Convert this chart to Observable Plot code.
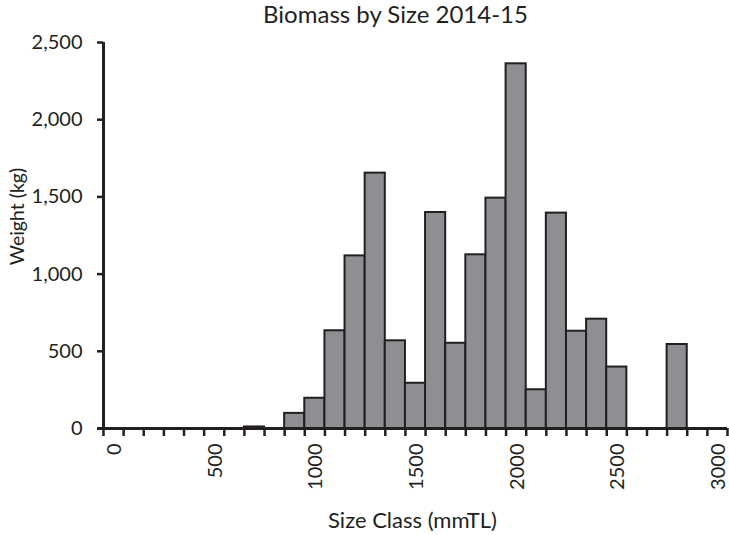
<!DOCTYPE html>
<html>
<head>
<meta charset="utf-8">
<script src="https://cdn.jsdelivr.net/npm/d3@7"></script>
<script src="https://cdn.jsdelivr.net/npm/@observablehq/plot@0.6"></script>
<style>
  html, body { margin: 0; padding: 0; background: #ffffff; }
  #chart svg { display: block; }
</style>
</head>
<body>
<div id="chart"></div>
<script>
// Size classes (mm total length), lower bound of each 100 mm bin
const sizeClasses = [0, 100, 200, 300, 400, 500, 600, 700, 800, 900,
  1000, 1100, 1200, 1300, 1400, 1500, 1600, 1700, 1800, 1900,
  2000, 2100, 2200, 2300, 2400, 2500, 2600, 2700, 2800, 2900, 3000];
// Weight (kg) per size class
const weights = [0, 0, 0, 0, 0, 0, 0, 10, 0, 98,
  196, 633, 1118, 1654, 568, 293, 1399, 552, 1125, 1492,
  2362, 251, 1395, 630, 708, 398, 0, 0, 544, 0, 0];
const binWidth = 100;
const xTickLabels = ["0", "500", "1000", "1500", "2000", "2500", "3000"];
const yTicks = [0, 500, 1000, 1500, 2000, 2500];
const titleText = "Biomass by Size 2014-15";
const xTitle = "Size Class (mmTL)";
const yTitle = "Weight (kg)";

const data = sizeClasses.map((s, i) => ({size: s, weight: weights[i]}));
const boundaries = [...sizeClasses, sizeClasses[sizeClasses.length - 1] + binWidth];
const ink = "#231f20";

const chart = Plot.plot({
  width: 729,
  height: 535,
  marginLeft: 103,
  marginRight: 2,
  marginTop: 42,
  marginBottom: 107,
  style: {fontFamily: "Lato, sans-serif", fontSize: "19px", color: ink, background: "#ffffff"},
  x: {domain: [0, boundaries[boundaries.length - 1]]},
  y: {domain: [0, 2500]},
  marks: [
    Plot.rectY(data.filter(d => d.weight > 0), {
      x1: "size", x2: d => d.size + binWidth, y: "weight",
      fill: "#8e8f93", stroke: ink, strokeWidth: 2
    }),
    Plot.axisY({ticks: yTicks, tickFormat: d3.format(","), tickSize: 6, tickPadding: 15,
      strokeWidth: 2.5, fontSize: 20, label: null}),
    Plot.axisX({ticks: boundaries, tickFormat: () => "", tickSize: 8, strokeWidth: 2.5, label: null}),
    Plot.text(xTickLabels, {x: d => +d + binWidth / 2, y: 0, text: d => d, rotate: -90,
      textAnchor: "end", lineAnchor: "middle", dy: 15, dx: 1, fontSize: 20}),
    Plot.ruleX([0], {y1: 0, y2: 2500, stroke: ink, strokeWidth: 3}),
    Plot.ruleY([0], {stroke: ink, strokeWidth: 3, insetLeft: -6}),
    Plot.text([yTitle], {frameAnchor: "left", rotate: -90, textAnchor: "middle", lineAnchor: "middle",
      dx: -86, dy: -19, fontSize: 19.5}),
    Plot.text([xTitle], {frameAnchor: "bottom", textAnchor: "middle", lineAnchor: "middle",
      dx: -3, dy: 92, fontSize: 22}),
    Plot.text([titleText], {frameAnchor: "top", textAnchor: "middle", lineAnchor: "middle",
      dx: -20, dy: -27, fontSize: 24})
  ]
});
document.getElementById("chart").appendChild(chart);
</script>
</body>
</html>
